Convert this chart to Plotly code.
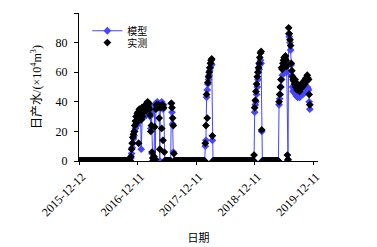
import pandas as pd
import plotly.graph_objects as go

# ---- data (4-day sampling, values in 10^4 m3/d) ----
zero_run_a = 81   # 2015-12-12 .. 2016-10-28
model_s1 = [2, 5, 9, 12, 15, 17,
            20, 22, 25, 24, 27, 29, 26, 30,
            28, 31, 8, 30, 33, 29, 32, 34,
            33, 35, 31, 36, 37, 34, 38, 36,
            30, 22, 33, 5, 0, 0, 2,
            38, 0, 36, 39, 40, 38, 39, 37,
            0, 38, 39, 40, 37, 35, 38, 0,
            0, 0, 0, 0, 0, 0, 0, 0, 0,
            0, 39, 33, 25, 6, 0]
meas_s1 = [3, 8, 12, 16, 18, 20,
           24, 27, 30, 26, 32, 33, 12, 35,
           31, 34, 28, 36, 30, 35, 33, 37,
           36, 38, 34, 39, 40, 37, 39, 35,
           31, 20, 24, 6, 2, 0, 3,
           23, 1, 35, 38, 37, 36, 38, 29,
           8, 36, 37, 22, 38, 14, 36, 6,
           0, 0, 0, 0, 0, 0, 0, 0, 0,
           0, 39, 36, 29, 24, 5]
zero_run_b = 47
model_s2 = [0, 10, 14, 43, 48, 52, 55, 58, 61, 63, 66, 65, 14, 0]
meas_s2 = [0, 12, 24, 45, 29, 53, 57, 60, 63, 66, 68, 69, 17, 0]
zero_run_c = 63
model_s3 = [0, 33, 38, 40, 45, 50, 55, 60, 62, 65, 68, 66, 20, 0]
meas_s3 = [4, 36, 41, 47, 52, 57, 60, 63, 66, 70, 73, 74, 21, 0]
zero_run_d = 24
model_s4 = [0, 38, 42, 45, 50, 55, 58, 62, 64, 63, 66, 62, 65, 60,
            0, 0, 86, 84, 80, 75, 65, 58, 50, 47,
            48, 47, 46, 45, 44, 45, 43, 44, 44, 43, 45, 44,
            45, 46, 45, 47, 46, 48, 47, 49, 48, 50, 49, 48,
            40, 35]
meas_s4 = [0, 40, 45, 50, 55, 63, 62, 66, 68, 70, 69, 71, 68, 64,
           4, 1, 90, 86, 82, 78, 66, 61, 57, 55,
           54, 52, 55, 50, 51, 48, 52, 49, 50, 47, 51, 49,
           52, 50, 53, 51, 54, 52, 55, 56, 54, 58, 56, 55,
           45, 38]

model = [0] * zero_run_a + model_s1 + [0] * zero_run_b + model_s2 + \
        [0] * zero_run_c + model_s3 + [0] * zero_run_d + model_s4
meas = [0] * zero_run_a + meas_s1 + [0] * zero_run_b + meas_s2 + \
       [0] * zero_run_c + meas_s3 + [0] * zero_run_d + meas_s4
dates = pd.date_range("2015-12-12", periods=len(model), freq="4D")

tick_dates = ["2015-12-12", "2016-12-11", "2017-12-11", "2018-12-11", "2019-12-11"]
y_ticks = [0, 20, 40, 60, 80, 100]

FONT = "Liberation Serif, Times New Roman, Noto Sans CJK SC, serif"
BLUE = "#4646ff"

fig = go.Figure()
fig.add_trace(go.Scatter(
    x=dates, y=model, mode="lines+markers", name="模型", legend="legend",
    line=dict(color=BLUE, width=1),
    marker=dict(symbol="diamond", size=6, color=BLUE),
))
fig.add_trace(go.Scatter(
    x=dates, y=meas, mode="markers", name="实测", legend="legend2",
    marker=dict(symbol="diamond", size=6, color="black"),
))

leg_common = dict(xanchor="left", yanchor="middle", bgcolor="rgba(0,0,0,0)",
                  font=dict(size=10), itemwidth=30)

# page body has an 8px default margin, so the figure is 8px smaller than the window
fig.update_layout(
    width=369, height=239,
    margin=dict(l=71, r=59, t=5, b=85.5, autoexpand=False),
    paper_bgcolor="white", plot_bgcolor="white",
    font=dict(family=FONT, size=12, color="black"),
    showlegend=True,
    legend=dict(x=0.035, y=0.88, **leg_common),
    legend2=dict(x=0.035, y=0.80, **leg_common),
    xaxis=dict(
        type="date", automargin=False,
        range=["2015-12-12", "2020-01-11"],
        tickvals=tick_dates, ticktext=tick_dates,
        tickangle=-45, tickfont=dict(size=12, color="black"),
        ticklabelshift=3,
        showline=True, linecolor="black", linewidth=1,
        ticks="outside", ticklen=3, tickcolor="black",
        showgrid=False, zeroline=False,
        title=dict(text="日期", font=dict(size=11), standoff=15),
    ),
    yaxis=dict(
        range=[0, 100], tickvals=y_ticks, automargin=False,
        showline=True, linecolor="black", linewidth=1,
        ticks="outside", ticklen=4, tickcolor="black",
        ticklabelstandoff=4,
        showgrid=False, zeroline=False, tickfont=dict(size=12, color="black"),
        title=dict(text="日产水/(×10<sup>4</sup>m<sup>3</sup>)", font=dict(size=12), standoff=11),
    ),
)

fig.write_html("out.html")
